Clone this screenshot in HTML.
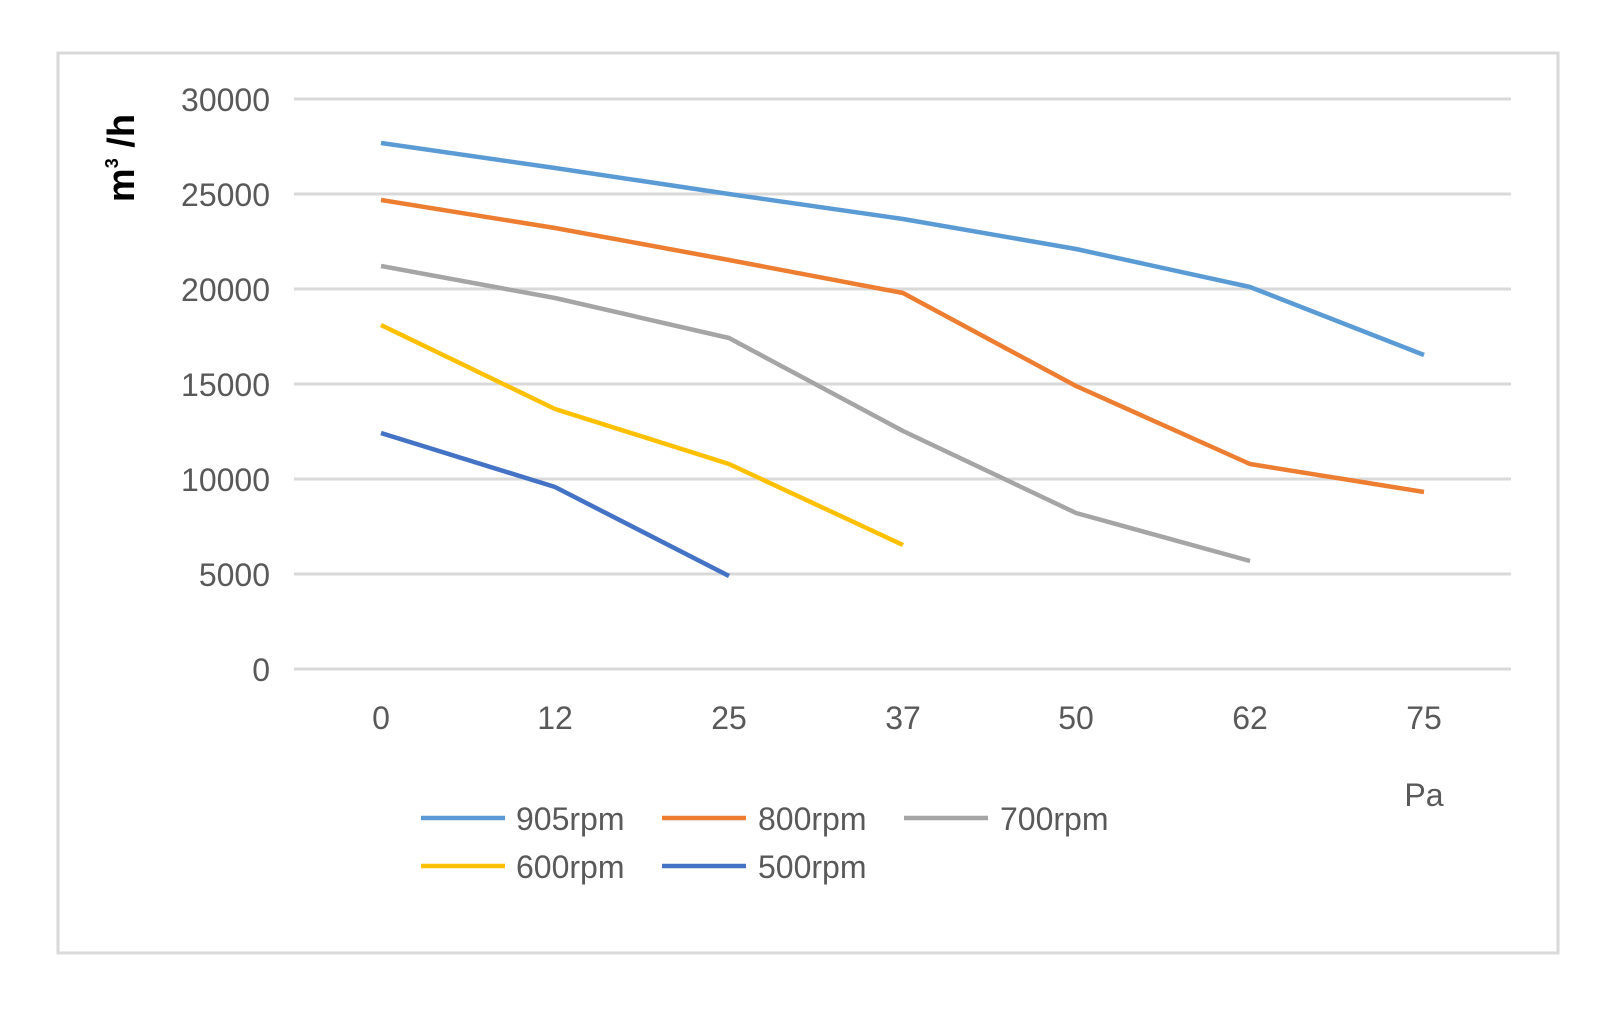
<!DOCTYPE html>
<html><head><meta charset="utf-8"><style>
html,body{margin:0;padding:0;background:#fff;}
svg{display:block;}
</style></head><body>
<svg width="1617" height="1011" xmlns="http://www.w3.org/2000/svg" font-family="Liberation Sans, sans-serif">
<rect x="0" y="0" width="1617" height="1011" fill="#fff"/>
<rect x="58" y="53" width="1500" height="900" fill="#fff" stroke="#d9d9d9" stroke-width="3"/>
<g stroke="#d9d9d9" stroke-width="3">
<line x1="294" x2="1511" y1="99" y2="99"/>
<line x1="294" x2="1511" y1="194" y2="194"/>
<line x1="294" x2="1511" y1="289" y2="289"/>
<line x1="294" x2="1511" y1="384" y2="384"/>
<line x1="294" x2="1511" y1="479" y2="479"/>
<line x1="294" x2="1511" y1="574" y2="574"/>
<line x1="294" x2="1511" y1="669" y2="669"/>
</g>
<g fill="#595959" font-size="32" text-anchor="end">
<text x="270" y="111">30000</text>
<text x="270" y="206">25000</text>
<text x="270" y="301">20000</text>
<text x="270" y="396">15000</text>
<text x="270" y="491">10000</text>
<text x="270" y="586">5000</text>
<text x="270" y="681">0</text>
</g>
<g fill="#595959" font-size="32" text-anchor="middle">
<text x="381" y="729">0</text>
<text x="555" y="729">12</text>
<text x="729" y="729">25</text>
<text x="903" y="729">37</text>
<text x="1076" y="729">50</text>
<text x="1250" y="729">62</text>
<text x="1424" y="729">75</text>
<text x="1424" y="806">Pa</text>
</g>
<text transform="translate(134,158) rotate(-90)" text-anchor="middle" font-size="38" font-weight="bold" fill="#000">m<tspan font-size="18" dy="-16">3</tspan><tspan dy="16"> /h</tspan></text>
<g fill="none" stroke-width="4.5" stroke-linejoin="round">
<polyline stroke="#5B9BD5" points="381,143 555,168 729,194 903,219 1076,249 1250,287 1424,355"/>
<polyline stroke="#ED7D31" points="381,200 555,228 729,260 903,293 1076,386 1250,464 1424,492"/>
<polyline stroke="#A5A5A5" points="381,266 555,298 729,338 903,431 1076,513 1250,561"/>
<polyline stroke="#FFC000" points="381,325 555,409 729,464 903,545"/>
<polyline stroke="#4472C4" points="381,433 555,487 729,576"/>
</g>
<g stroke-width="4.5">
<line x1="421" x2="505" y1="818" y2="818" stroke="#5B9BD5"/>
<line x1="662" x2="746" y1="818" y2="818" stroke="#ED7D31"/>
<line x1="904" x2="988" y1="818" y2="818" stroke="#A5A5A5"/>
<line x1="421" x2="505" y1="866" y2="866" stroke="#FFC000"/>
<line x1="662" x2="746" y1="866" y2="866" stroke="#4472C4"/>
</g>
<g fill="#595959" font-size="32">
<text x="516" y="830">905rpm</text>
<text x="758" y="830">800rpm</text>
<text x="1000" y="830">700rpm</text>
<text x="516" y="878">600rpm</text>
<text x="758" y="878">500rpm</text>
</g>
</svg>
</body></html>
